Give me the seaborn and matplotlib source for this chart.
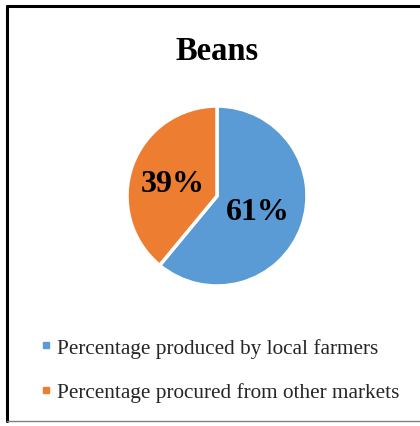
import matplotlib
matplotlib.use("Agg")
import matplotlib.pyplot as plt
from matplotlib.lines import Line2D
import seaborn as sns

title = "Beans"
categories = ["Percentage produced by local farmers", "Percentage procured from other markets"]
values = [61, 39]
value_labels = ["61%", "39%"]
colors = ["#5B9BD5", "#ED7D31"]

sns.set_theme(style="white")
plt.rcParams["font.family"] = ["Liberation Serif", "DejaVu Serif"]

W, H = 420, 427
fig = plt.figure(figsize=(W / 100, H / 100), dpi=100)

# border
fig.add_artist(Line2D([7 / W, 7 / W], [1 - 6.5 / H, 1 - 422 / H], color="black", lw=2.2))
fig.add_artist(Line2D([7 / W, 1], [1 - 6.5 / H, 1 - 6.5 / H], color="black", lw=2.2))
fig.add_artist(Line2D([7 / W, 1], [1 - 422 / H, 1 - 422 / H], color="#808080", lw=1))

cx, cy, r = 217, 197, 90
ax = fig.add_axes([(cx - r) / W, 1 - (cy + r) / H, 2 * r / W, 2 * r / H])
wedges, _ = ax.pie(values, colors=colors, startangle=90, counterclock=False,
                   wedgeprops=dict(edgecolor="white", linewidth=2.5))
ax.set_xlim(-1, 1)
ax.set_ylim(-1, 1)
ax.set_aspect("auto")
ax.axis("off")

label_pos = [(258, 213), (173, 184)]
for (px, py), lab in zip(label_pos, value_labels):
    fig.text(px / W, 1 - py / H, lab, ha="center", va="center",
             fontsize=23, fontweight="bold", color="black")

fig.text(217 / W, 1 - 51 / H, title, ha="center", va="center",
         fontsize=23.5, fontweight="bold", color="black")

handles = [Line2D([], [], marker="s", linestyle="none", markersize=5,
                  markerfacecolor=c, markeredgecolor=c) for c in colors]
fig.legend(handles, categories, loc="upper left",
           bbox_to_anchor=(42 / W, 1 - 339 / H), frameon=False,
           fontsize=15.3, handlelength=0.4, handletextpad=0.3,
           labelspacing=1.16, borderaxespad=0, borderpad=0)

fig.savefig("out.png", dpi=100)
